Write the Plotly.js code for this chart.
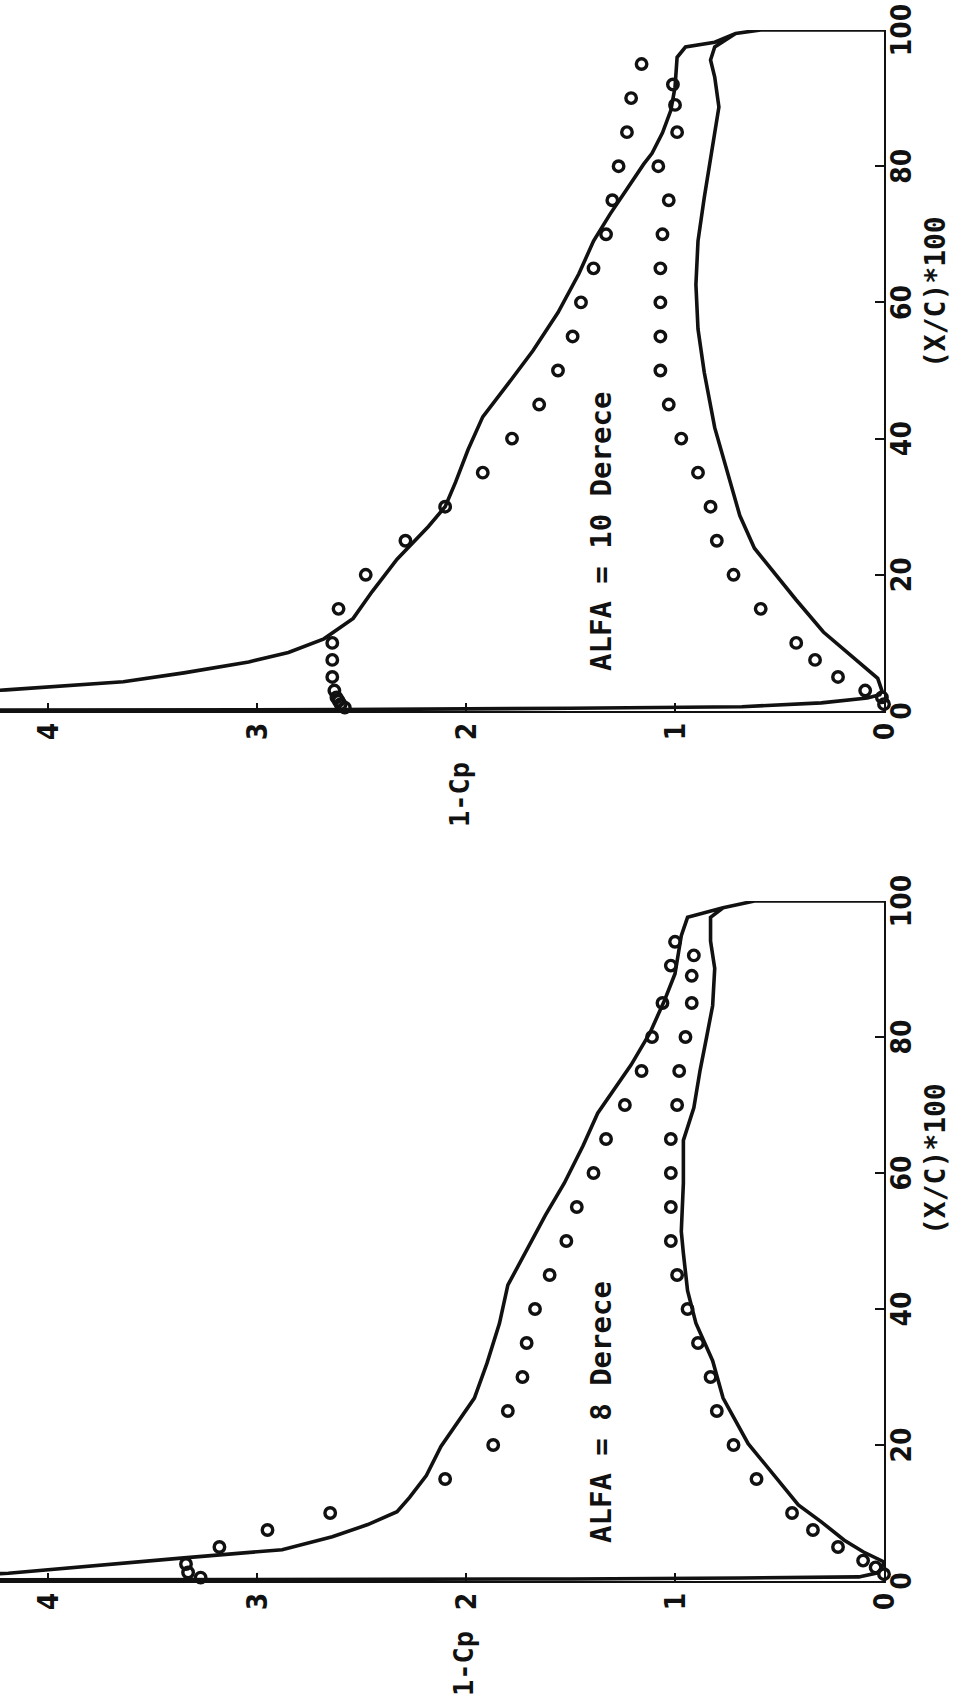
<!DOCTYPE html>
<html><head><meta charset="utf-8">
<script src="https://cdn.plot.ly/plotly-3.0.1.min.js"></script>
<style>
html,body{margin:0;padding:0;background:#fff;}
#wrap{position:relative;width:967px;height:1704px;overflow:hidden;background:#fff;}
#plot{position:absolute;left:0;top:0;width:1704px;height:967px;transform-origin:0 0;transform:translateY(1704px) rotate(-90deg);}
</style></head><body><div id="wrap"><div id="plot"></div></div>
<script>
// ALFA = 8 (lower panel in the picture)
const bot_calc_x = [100,100,99,97.6,94.9,89.3,85.4,80.6,75.9,71.9,68.8,64,58.5,53.8,48.2,43.5,37.9,32,26.9,23.7,19.8,15.5,12.3,10.2,8.3,6.5,4.6,3.4,2.2,1.13,0.6,0.3,0.15,0.2,0.3,0.45,0.6,1.2,2.0,2.8,4.3,6.0,8.7,11.2,14.9,20.2,26.9,32.4,37.9,42.7,48.2,51.4,58.5,64.8,69.6,75.1,79.8,84.6,90.1,94.1,97.6,99];
const bot_calc_cp = [0,0.62,0.77,0.94,0.97,1.0,1.05,1.12,1.21,1.30,1.37,1.44,1.53,1.62,1.72,1.80,1.84,1.90,1.96,2.03,2.12,2.19,2.27,2.33,2.47,2.64,2.88,3.35,3.8,4.19,4.7,5.0,4.5,3.0,1.5,0.69,0.12,0.03,0.01,0.0,0.10,0.19,0.30,0.41,0.51,0.65,0.77,0.82,0.90,0.94,0.96,0.97,0.96,0.96,0.91,0.88,0.85,0.82,0.81,0.83,0.83,0.77];
const bot_exp_upper_x = [94,90.5,85,80,75,70,65,60,55,50,45,40,35,30,25,20,15,10,7.5,5,2.5,1.25,0.5];
const bot_exp_upper_cp = [1.0,1.02,1.06,1.11,1.16,1.24,1.33,1.39,1.47,1.52,1.60,1.67,1.71,1.73,1.80,1.87,2.10,2.65,2.95,3.18,3.34,3.33,3.27];
const bot_exp_lower_x = [92,89,85,80,75,70,65,60,55,50,45,40,35,30,25,20,15,10,7.5,5,3,2,1];
const bot_exp_lower_cp = [0.91,0.92,0.92,0.95,0.98,0.99,1.02,1.02,1.02,1.02,0.99,0.94,0.89,0.83,0.80,0.72,0.61,0.44,0.34,0.22,0.10,0.04,0.0];

// ALFA = 10 (upper panel in the picture)
const top_calc_x = [100,100,99.5,98.2,97.5,96,91.6,88.2,84.9,81.9,80.3,76.2,73,69,64.2,58.5,52.9,48,43.2,38.4,33.6,30,27.1,22.3,17.5,13.6,10.6,8.6,7.2,5.6,4.3,3.1,2.2,1.0,0.3,0.15,0.2,0.4,0.63,1.2,1.9,2.4,3.0,4.8,8.2,11.6,16.3,20.5,23.9,28.7,35.2,41.6,49.7,56.1,62.6,69,75.4,81,84.9,88.7,93.1,95.6,97.5,99.5];
const top_calc_cp = [0,0.59,0.71,0.81,0.95,0.99,1.0,1.02,1.06,1.11,1.15,1.24,1.31,1.39,1.46,1.56,1.68,1.80,1.92,1.99,2.05,2.10,2.18,2.33,2.45,2.54,2.68,2.85,3.04,3.35,3.64,4.2,4.8,5.2,5.0,4.3,2.6,1.5,0.68,0.3,0.08,0.02,0.01,0.03,0.16,0.29,0.42,0.53,0.62,0.69,0.75,0.81,0.86,0.89,0.90,0.89,0.86,0.83,0.81,0.79,0.81,0.83,0.81,0.71];
const top_exp_upper_x = [95,90,85,80,75,70,65,60,55,50,45,40,35,30,25,20,15,10,7.5,5,3,2,1.5,1,0.5];
const top_exp_upper_cp = [1.16,1.21,1.23,1.27,1.30,1.33,1.39,1.45,1.49,1.56,1.65,1.78,1.92,2.10,2.29,2.48,2.61,2.64,2.64,2.64,2.63,2.62,2.61,2.60,2.58];
const top_exp_lower_x = [92,89,85,80,75,70,65,60,55,50,45,40,35,30,25,20,15,10,7.5,5,3,2,1];
const top_exp_lower_cp = [1.01,1.0,0.99,1.08,1.03,1.06,1.07,1.07,1.07,1.07,1.03,0.97,0.89,0.83,0.80,0.72,0.59,0.42,0.33,0.22,0.09,0.01,0.0];

const xTickVals = [0,20,40,60,80,100];
const xTickText = ['0','20','40','60','80','100'];
const yTickVals = [0,1,2,3,4];
const yTickText = ['0','1','2','3','4'];
const xTitle = '(X/C)*100';
const yTitle = '1-Cp';
const panelLabels = ['ALFA = 8 Derece','ALFA = 10 Derece'];

const INK = '#111';
const tickFont = {family:'"Liberation Sans Narrow","DejaVu Sans Condensed","Liberation Sans",sans-serif', size:28, color:INK, weight:'bold'};
const monoFont = (s)=>({family:'"DejaVu Sans Mono","Liberation Mono",monospace', size:s, color:INK, weight:'bold'});

function lineTrace(x,y,xa,ya){return {x:x,y:y,xaxis:xa,yaxis:ya,mode:'lines',line:{color:INK,width:3.6},hoverinfo:'skip',showlegend:false};}
function ptTrace(x,y,xa,ya){return {x:x,y:y,xaxis:xa,yaxis:ya,mode:'markers',marker:{symbol:'circle-open',size:10.5,color:INK,line:{width:3.4,color:INK}},cliponaxis:false,hoverinfo:'skip',showlegend:false};}

const data = [
  lineTrace(bot_calc_x,bot_calc_cp,'x','y'),
  ptTrace(bot_exp_upper_x,bot_exp_upper_cp,'x','y'),
  ptTrace(bot_exp_lower_x,bot_exp_lower_cp,'x','y'),
  lineTrace(top_calc_x,top_calc_cp,'x2','y2'),
  ptTrace(top_exp_upper_x,top_exp_upper_cp,'x2','y2'),
  ptTrace(top_exp_lower_x,top_exp_lower_cp,'x2','y2')
];

function xax(dom,anchor){return {domain:dom,anchor:anchor,range:[0,100],tickvals:xTickVals,ticktext:xTickText,ticks:'inside',ticklen:9,tickwidth:2,tickcolor:INK,showline:true,linewidth:2,linecolor:INK,showgrid:false,zeroline:false,tickfont:tickFont,ticklabelstandoff:-9,automargin:false,fixedrange:true};}
function yax(anchor){return {domain:[0,1],anchor:anchor,range:[0,4.23],tickvals:yTickVals,ticktext:yTickText,ticks:'inside',ticklen:8,tickwidth:2,tickcolor:INK,showline:true,linewidth:2,linecolor:INK,showgrid:false,zeroline:false,tickfont:tickFont,ticklabelstandoff:4,automargin:false,fixedrange:true};}

const layout = {
  width:1704,height:967,
  margin:{l:0,r:0,t:0,b:83},
  paper_bgcolor:'#fff',plot_bgcolor:'rgba(0,0,0,0)',
  showlegend:false,
  xaxis:xax([123/1704,803/1704],'y'),
  yaxis:yax('x'),
  xaxis2:xax([993/1704,1674/1704],'y2'),
  yaxis2:yax('x2'),
  annotations:[
    {xref:'x',yref:'y',x:5.3,y:1.354,xanchor:'left',yanchor:'middle',text:panelLabels[0],showarrow:false,font:monoFont(29)},
    {xref:'x2',yref:'y2',x:5.6,y:1.354,xanchor:'left',yanchor:'middle',text:panelLabels[1],showarrow:false,font:monoFont(29)},
    {xref:'x',yref:'paper',x:62,y:0,yshift:-51,xanchor:'center',yanchor:'middle',text:xTitle,showarrow:false,font:monoFont(28)},
    {xref:'x2',yref:'paper',x:61.5,y:0,yshift:-51,xanchor:'center',yanchor:'middle',text:xTitle,showarrow:false,font:monoFont(28)},
    {xref:'paper',yref:'paper',x:40/1704,y:0.476,xanchor:'center',yanchor:'middle',text:yTitle,showarrow:false,font:monoFont(27)},
    {xref:'paper',yref:'paper',x:909/1704,y:0.48,xanchor:'center',yanchor:'middle',text:yTitle,showarrow:false,font:monoFont(27)}
  ]
};
Plotly.newPlot('plot',data,layout,{staticPlot:true,displayModeBar:false});
</script></body></html>
